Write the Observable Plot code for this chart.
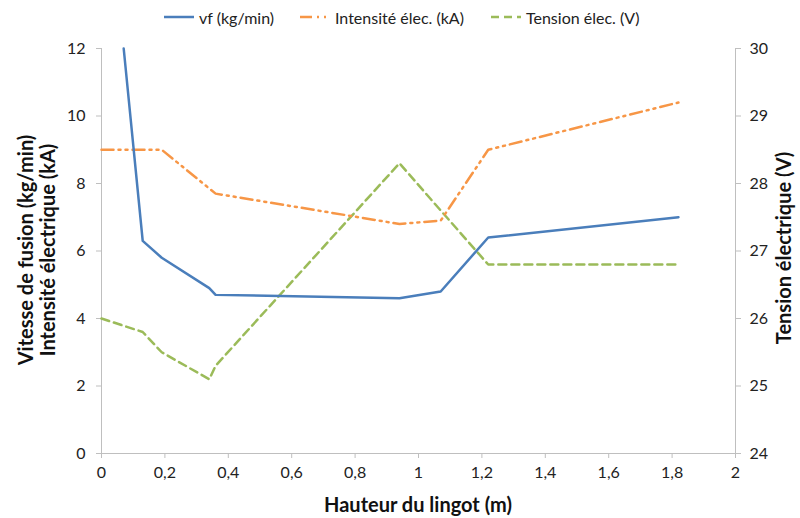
<!DOCTYPE html>
<html><head><meta charset="utf-8">
<script src="https://cdn.jsdelivr.net/npm/d3@7"></script>
<script src="https://cdn.jsdelivr.net/npm/@observablehq/plot@0.6"></script>
<style>
body{margin:0;background:#fff;font-family:Lato,"Open Sans",sans-serif;}
#wrap{position:relative;width:800px;height:518px;}
#legend{position:absolute;top:6px;left:0;width:800px;height:24px;font-size:16px;color:#222;}
.li{position:absolute;top:0;display:flex;align-items:center;height:22px;}
.li svg{margin-right:5px;}
</style></head>
<body><div id="wrap"><div id="legend"></div></div>
<script>
// Data
const vfX = [0.07, 0.13, 0.19, 0.34, 0.36, 0.94, 1.07, 1.22, 1.82];
const vfY = [12, 6.3, 5.8, 4.9, 4.7, 4.6, 4.8, 6.4, 7.0];
const iX = [0, 0.19, 0.36, 0.94, 1.07, 1.22, 1.82];
const iY = [9.0, 9.0, 7.7, 6.8, 6.9, 9.0, 10.4];
const uX = [0, 0.13, 0.19, 0.34, 0.36, 0.94, 1.07, 1.22, 1.82];
const uY = [26.0, 25.8, 25.5, 25.1, 25.3, 28.3, 27.6, 26.8, 26.8];
const xTicks = [0, 0.2, 0.4, 0.6, 0.8, 1, 1.2, 1.4, 1.6, 1.8, 2];
const leftTicks = [0, 2, 4, 6, 8, 10, 12];
const rightTicks = [24, 25, 26, 27, 28, 29, 30];
const seriesNames = ["vf (kg/min)", "Intensité élec. (kA)", "Tension élec. (V)"];
const colors = ["#4a7ebb", "#f79646", "#9bbb59"];

const vf = vfX.map((x, i) => ({x, y: vfY[i]}));
const cur = iX.map((x, i) => ({x, y: iY[i]}));
// right axis 24..30 mapped onto left 0..12
const toLeft = v => (v - 24) * 2;
const volt = uX.map((x, i) => ({x, y: toLeft(uY[i])}));

const fmt = d => String(d).replace(".", ",");
const axisColor = "#bfbfbf";

const chart = Plot.plot({
  width: 800, height: 518,
  marginTop: 48, marginBottom: 65, marginLeft: 101, marginRight: 65,
  style: {fontFamily: "Lato, 'Open Sans', sans-serif", fontSize: "16px", color: "#222", background: "#fff"},
  x: {domain: [0, 2], ticks: xTicks, tickFormat: fmt},
  y: {domain: [0, 12], ticks: leftTicks},
  marks: [
    Plot.ruleX([0], {stroke: axisColor}),
    Plot.ruleX([2], {stroke: axisColor}),
    Plot.ruleY([0], {stroke: axisColor}),
    Plot.axisX({ticks: xTicks, tickFormat: fmt, tickSize: 5, tickPadding: 8, stroke: axisColor, fill: "#222", label: null}),
    Plot.axisY({anchor: "left", ticks: leftTicks, tickSize: 5, tickPadding: 11, stroke: axisColor, fill: "#222", label: null}),
    Plot.axisY({anchor: "right", ticks: rightTicks.map(toLeft), tickFormat: d => String(24 + d / 2), tickSize: 5, tickPadding: 9, stroke: axisColor, fill: "#222", label: null}),
    Plot.line(volt, {x: "x", y: "y", stroke: colors[2], strokeWidth: 2.5, strokeDasharray: "8,5"}),
    Plot.line(cur, {x: "x", y: "y", stroke: colors[1], strokeWidth: 2.5, strokeDasharray: "12,5,2,5,2,5"}),
    Plot.line(vf, {x: "x", y: "y", stroke: colors[0], strokeWidth: 2.5})
  ]
});
document.getElementById("wrap").appendChild(chart);

const svg = d3.select(chart);
const tt = svg.append("g").attr("font-family", "Lato, 'Open Sans', sans-serif").attr("font-weight", "bold").attr("font-size", "20px").attr("fill", "#111").attr("text-anchor", "middle");
tt.append("text").attr("transform", "translate(33,250) rotate(-90)").text("Vitesse de fusion (kg/min)");
tt.append("text").attr("transform", "translate(55,250) rotate(-90)").text("Intensité électrique (kA)");
tt.append("text").attr("transform", "translate(791,248) rotate(-90)").text("Tension électrique (V)");
tt.append("text").attr("x", 418).attr("y", 512).text("Hauteur du lingot (m)");

// Legend
const legend = d3.select("#legend");
const lx = [164, 300, 491];
const dashes = [null, "12,5,2,5,2,5", "8,5"];
seriesNames.forEach((name, i) => {
  const item = legend.append("div").attr("class", "li").style("left", lx[i] + "px");
  const s = item.append("svg").attr("width", 30).attr("height", 10);
  s.append("line").attr("x1", 0).attr("x2", 30).attr("y1", 5).attr("y2", 5)
    .attr("stroke", colors[i]).attr("stroke-width", 2.5).attr("stroke-dasharray", dashes[i]);
  item.append("span").text(name);
});
</script></body></html>
